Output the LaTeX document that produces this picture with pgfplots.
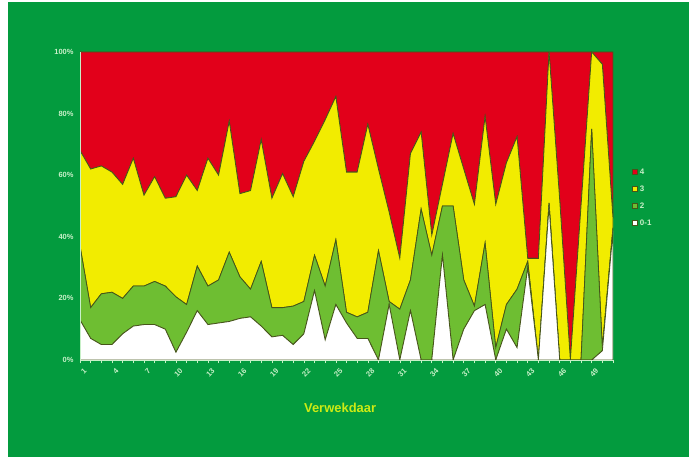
\documentclass[border=0pt]{standalone}
\usepackage{fontspec}
\setmainfont{Liberation Sans}
\usepackage{pgfplots}
\usepackage{pgfplotstable}
\pgfplotsset{compat=1.18}
\definecolor{bg}{RGB}{3,155,62}
\definecolor{cred}{RGB}{226,0,26}
\definecolor{cyel}{RGB}{242,236,0}
\definecolor{cgrn}{RGB}{110,190,50}
\definecolor{outl}{RGB}{70,85,25}
\definecolor{tickcol}{RGB}{200,240,200}
\definecolor{xlab}{RGB}{205,235,20}
\pgfplotstableread{
i a b c d
1 13 24 31 32
2 7 10 45 38
3 5 16.5 41.5 37
4 5 17 39 39
5 8.5 11.5 37 43
6 11 13 41.5 34.5
7 11.5 12.5 29.5 46.5
8 11.5 14 34 40.5
9 10 14 28.5 47.5
10 2.5 18 32.5 47
11 9 9 42 40
12 16 14.5 24.5 45
13 11.5 12.5 41.5 34.5
14 12 14 34 40
15 12.5 22.5 42.5 22.5
16 13.5 13.5 27 46
17 14 9 32 45
18 11 21 39.5 28.5
19 7.5 9.5 35.5 47.5
20 8 9 43.5 39.5
21 5 12.5 35.5 47
22 8.5 10.5 45.5 35.5
23 22.5 11.5 37 29
24 6.5 17.5 54 22
25 18 21 46.5 14.5
26 12 3.5 45.5 39
27 7 7 47 39
28 7 8.5 61 23.5
29 0 35.5 26.5 38
30 18 1 29 52
31 0 16.5 16.5 67
32 16 10 41 33
33 0 49 25 26
34 0 34 6.5 59.5
35 34 16 7 43
36 0 50 23.5 26.5
37 10 16 36 38
38 16 1.5 33 49.5
39 18 20 41 21
40 0 4 46.5 49.5
41 10 8 46 36
42 4 19 49.5 27.5
43 30 2 1 67
44 0 0 33 67
45 50 1 49 0
46 0 0 52 48
47 0 0 0 100
48 0 0 50 50
49 0 75 25 0
50 3 1 92 4
51 42 1 3 54
}\data
\begin{document}
\begin{tikzpicture}
\useasboundingbox (0bp,0bp) rectangle (696bp,461bp);
\fill[white] (0bp,0bp) rectangle (696bp,461bp);
\fill[bg] (8bp,4bp) rectangle (689bp,459bp);
\begin{axis}[
  at={(80bp,101bp)}, anchor=south west,
  scale only axis, width=533bp, height=308bp,
  xmin=1, xmax=51, ymin=0, ymax=100,
  stack plots=y, area style,
  axis x line=bottom, axis y line=left,
  axis line style={-, draw=tickcol, line width=0.8bp},
  xtick={1,4,...,49}, minor xtick={1,...,51},
  ytick={0,20,...,100},
  yticklabel={\pgfmathprintnumber{\tick}\%},
  /pgf/number format/assume math mode=true,
  tick align=outside, major tick length=3bp, minor tick length=3bp,
  x tick style={draw=tickcol, line width=0.6bp}, y tick style={draw=none},
  tick label style={font=\bfseries\fontsize{7.5}{8}\selectfont, text=tickcol},
  x tick label style={rotate=45, anchor=north east, inner sep=0.5bp, yshift=-5bp},
  xlabel={Verwekdaar},
  xlabel style={at={(axis description cs:0.488,0)}, anchor=center, yshift=-48bp, font=\bfseries\fontsize{13}{14}\selectfont, text=xlab},
  legend style={at={(axis description cs:1.03,0.635)}, anchor=north west, draw=none, fill=none, font=\bfseries\fontsize{8}{9}\selectfont, text=tickcol, row sep=6bp},
  legend cell align=left, reverse legend,
  legend image code/.code={\draw[#1] (0bp,-2.5bp) rectangle (5bp,2.5bp);},
]
\addplot[fill=white, draw=outl, line width=0.8bp] table[x=i,y=a] {\data} \closedcycle;
\addlegendentry{0-1}
\addplot[fill=cgrn, draw=outl, line width=0.8bp] table[x=i,y=b] {\data} \closedcycle;
\addlegendentry{2}
\addplot[fill=cyel, draw=outl, line width=0.8bp] table[x=i,y=c] {\data} \closedcycle;
\addlegendentry{3}
\addplot[fill=cred, draw=outl, line width=0.8bp] table[x=i,y=d] {\data} \closedcycle;
\addlegendentry{4}
\end{axis}
\end{tikzpicture}
\end{document}
